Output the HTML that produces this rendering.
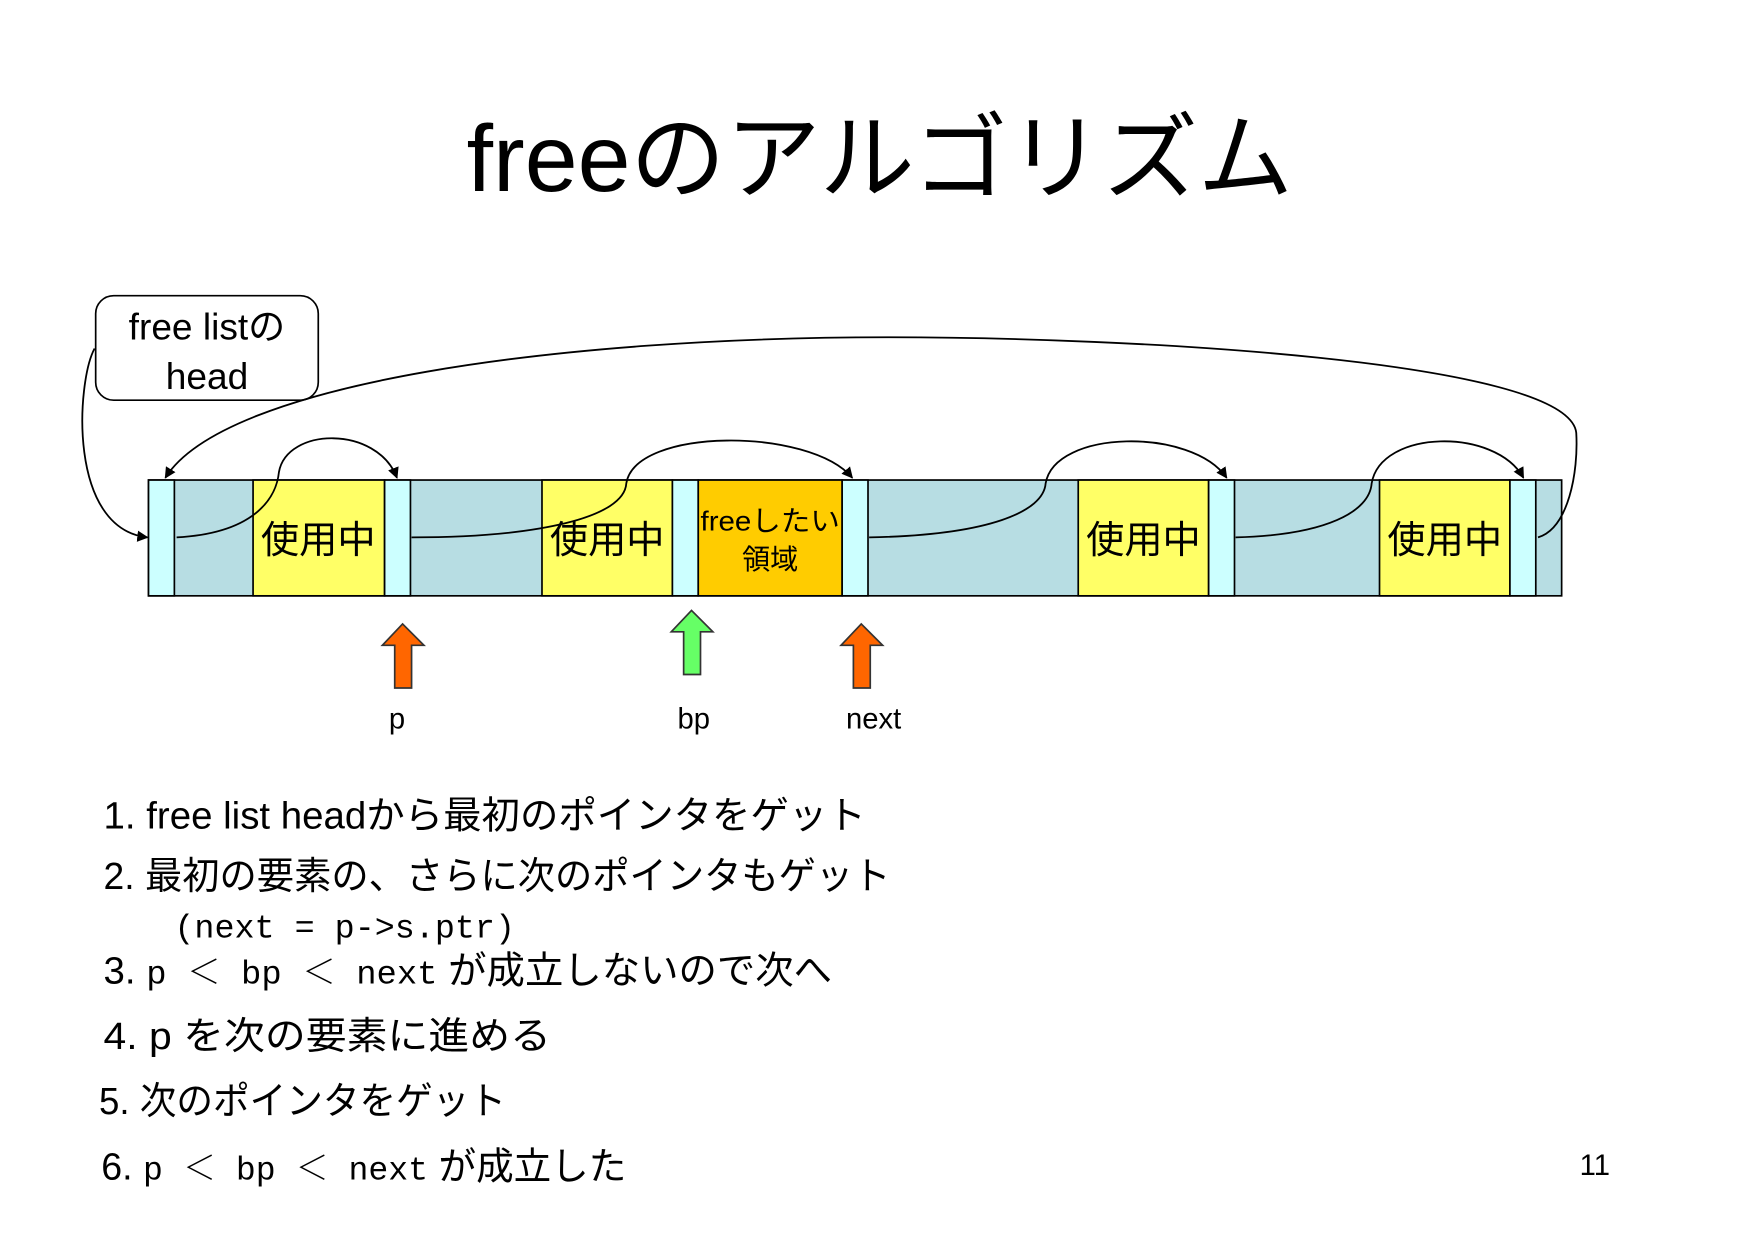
<!DOCTYPE html>
<html><head><meta charset="utf-8"><style>
html,body{margin:0;padding:0;background:#fff;}
svg{display:block;}
text{font-family:"Liberation Sans","Noto Sans CJK JP",sans-serif;fill:#000;}
.m{font-family:"Liberation Mono","Noto Serif CJK SC",monospace;}
</style></head><body>
<svg width="1754" height="1240" viewBox="0 0 1560 1103" xmlns="http://www.w3.org/2000/svg">
<defs>
<marker id="ah" markerWidth="10" markerHeight="10" refX="9" refY="5" orient="auto" markerUnits="userSpaceOnUse">
<path d="M0,0 L10,5 L0,10 z" fill="#000"/></marker>
</defs>
<rect width="1560" height="1103" fill="#fff"/>
<text x="415" y="170" font-size="84" textLength="735" lengthAdjust="spacingAndGlyphs">freeのアルゴリズム</text>

<rect x="85" y="263" width="198" height="93" rx="16" fill="#fff" stroke="#000" stroke-width="1.5"/>
<text x="184" y="302" font-size="33" text-anchor="middle">free listの</text>
<text x="184" y="346" font-size="33" text-anchor="middle">head</text>

<g stroke="#000" stroke-width="1.5">
<rect x="132" y="427" width="1257" height="103" fill="#b7dde3"/>
<rect x="132" y="427" width="23" height="103" fill="#ccffff"/>
<rect x="225" y="427" width="117" height="103" fill="#ffff66"/>
<rect x="342" y="427" width="23" height="103" fill="#ccffff"/>
<rect x="482" y="427" width="116" height="103" fill="#ffff66"/>
<rect x="598" y="427" width="23" height="103" fill="#ccffff"/>
<rect x="621" y="427" width="128" height="103" fill="#ffcc00"/>
<rect x="749" y="427" width="23" height="103" fill="#ccffff"/>
<rect x="959" y="427" width="116" height="103" fill="#ffff66"/>
<rect x="1075" y="427" width="23" height="103" fill="#ccffff"/>
<rect x="1227" y="427" width="116" height="103" fill="#ffff66"/>
<rect x="1343" y="427" width="23" height="103" fill="#ccffff"/>
</g>
<text x="283" y="492" font-size="34" text-anchor="middle">使用中</text>
<text x="540" y="492" font-size="34" text-anchor="middle">使用中</text>
<text x="1017" y="492" font-size="34" text-anchor="middle">使用中</text>
<text x="1285" y="492" font-size="34" text-anchor="middle">使用中</text>
<text x="685" y="472" font-size="25" text-anchor="middle" textLength="124" lengthAdjust="spacingAndGlyphs">freeしたい</text>
<text x="685" y="506" font-size="25" text-anchor="middle">領域</text>

<g fill="none" stroke="#000" stroke-width="1.6" marker-end="url(#ah)">
<path d="M84,310 C68,340 60,470 131,478"/>
<path d="M1368,478 C1395,470 1404,420 1402,385 C1395,320 1000,300 790,300 C500,300 200,340 147,425"/>
<path d="M157,478 C230,474 246,440 248,420 C255,380 335,378 353,425"/>
<path d="M366,478 C480,478 555,460 557,430 C565,380 720,380 758,425"/>
<path d="M773,478 C880,476 928,455 930,430 C938,382 1060,380 1091,425"/>
<path d="M1099,478 C1180,476 1218,455 1220,430 C1228,382 1330,380 1355,425"/>
</g>

<g stroke="#333" stroke-width="1.5">
<path d="M351,612 L351,574 L340,574 L358,555 L377,574 L366,574 L366,612 z" fill="#ff6600"/>
<path d="M608,600 L608,562 L597,562 L615,543 L634,562 L623,562 L623,600 z" fill="#66ff66"/>
<path d="M759,612 L759,574 L748,574 L766,555 L785,574 L774,574 L774,612 z" fill="#ff6600"/>
</g>
<text x="353" y="648" font-size="26" text-anchor="middle">p</text>
<text x="617" y="648" font-size="26" text-anchor="middle">bp</text>
<text x="777" y="648" font-size="26" text-anchor="middle">next</text>

<text x="92" y="737" font-size="34" textLength="678" lengthAdjust="spacingAndGlyphs">1. free list headから最初のポインタをゲット</text>
<text x="92" y="791" font-size="34" textLength="700" lengthAdjust="spacingAndGlyphs">2. 最初の要素の、さらに次のポインタもゲット</text>
<text class="m" x="155" y="834" font-size="30" textLength="303" lengthAdjust="spacingAndGlyphs">(next = p-&gt;s.ptr)</text>
<text x="92" y="875" font-size="34" textLength="648" lengthAdjust="spacingAndGlyphs">3. <tspan class="m" font-size="30">p ＜ bp ＜ next</tspan> が成立しないので次へ</text>
<text x="92" y="933" font-size="34" textLength="398" lengthAdjust="spacingAndGlyphs">4. p を次の要素に進める</text>
<text x="88" y="991" font-size="34" textLength="362" lengthAdjust="spacingAndGlyphs">5. 次のポインタをゲット</text>
<text x="90" y="1049" font-size="34" textLength="467" lengthAdjust="spacingAndGlyphs">6. <tspan class="m" font-size="30">p ＜ bp ＜ next</tspan> が成立した</text>
<text x="1405" y="1045" font-size="26">11</text>
</svg>
</body></html>
